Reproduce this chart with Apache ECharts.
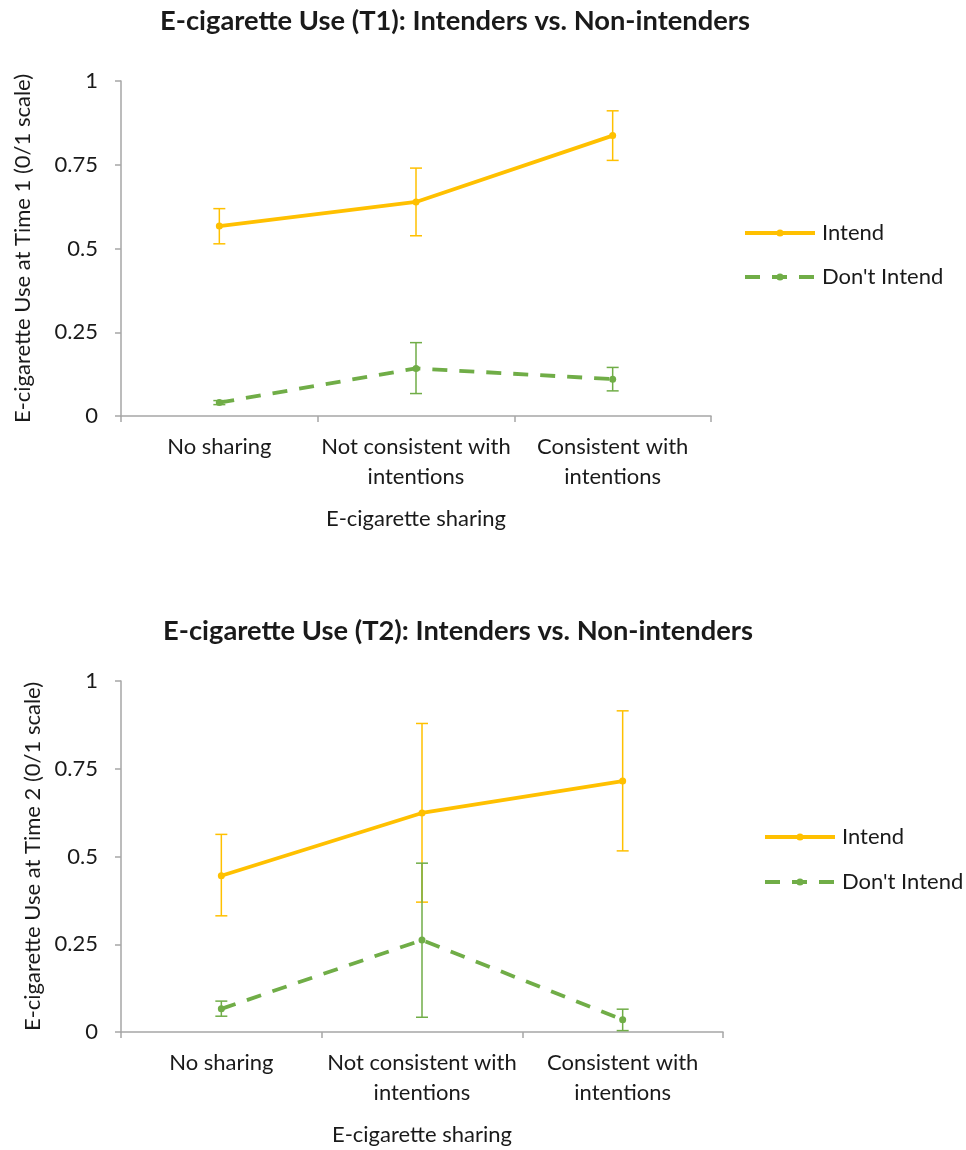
<!DOCTYPE html>
<html>
<head>
<meta charset="utf-8">
<script src="https://cdn.jsdelivr.net/npm/echarts@6/dist/echarts.min.js"></script>
<style>html,body{margin:0;padding:0;background:#fff}#c{width:966px;height:1150px}</style>
</head>
<body>
<div id="c"></div>
<script>
const categories = ['No sharing', 'Not consistent with\nintentions', 'Consistent with\nintentions'];
const yTicks = [0, 0.25, 0.5, 0.75, 1];

// T1
const intendT1 = [0.567, 0.639, 0.837];
const intendT1Low = [0.514, 0.538, 0.763];
const intendT1High = [0.619, 0.740, 0.911];
const dontT1 = [0.040, 0.142, 0.110];
const dontT1Low = [0.034, 0.067, 0.075];
const dontT1High = [0.046, 0.219, 0.145];

// T2
const intendT2 = [0.445, 0.624, 0.715];
const intendT2Low = [0.331, 0.370, 0.516];
const intendT2High = [0.563, 0.879, 0.915];
const dontT2 = [0.066, 0.262, 0.035];
const dontT2Low = [0.045, 0.042, 0.004];
const dontT2High = [0.088, 0.481, 0.065];

const YELLOW = '#FFC000';
const GREEN = '#70AD47';
const FONT = 'Lato';
const TXT = '#1a1a1a';

function errData(low, high) {
  return low.map((l, i) => [i, l, high[i]]);
}
function errSeries(name, low, high, color, idx) {
  return {
    name: name + ' error', type: 'custom', xAxisIndex: idx, yAxisIndex: idx, z: 1,
    silent: true, legendHoverLink: false,
    itemStyle: { color: color },
    data: errData(low, high),
    renderItem: function (params, api) {
      const i = api.value(0);
      const p1 = api.coord([i, api.value(1)]);
      const p2 = api.coord([i, api.value(2)]);
      const hw = 6;
      const st = { stroke: color, lineWidth: 1.5, fill: null };
      return {
        type: 'group',
        children: [
          { type: 'line', shape: { x1: p1[0], y1: p1[1], x2: p2[0], y2: p2[1] }, style: st },
          { type: 'line', shape: { x1: p1[0] - hw, y1: p1[1], x2: p1[0] + hw, y2: p1[1] }, style: st },
          { type: 'line', shape: { x1: p2[0] - hw, y1: p2[1], x2: p2[0] + hw, y2: p2[1] }, style: st }
        ]
      };
    }
  };
}
function lineSeries(name, data, color, dashed, idx) {
  return {
    name: name, type: 'line', xAxisIndex: idx, yAxisIndex: idx, z: 3,
    data: data, symbol: 'circle', symbolSize: 7,
    itemStyle: { color: color },
    lineStyle: { color: color, width: 3.8, type: dashed ? [15, 12] : 'solid' }
  };
}
function xAxis(idx) {
  return {
    type: 'category', gridIndex: idx, data: categories,
    boundaryGap: true,
    name: 'E-cigarette sharing', nameLocation: 'middle', nameGap: 92,
    nameTextStyle: { fontFamily: FONT, fontSize: 22, color: TXT },
    axisLine: { lineStyle: { color: '#A6A6A6', width: 1.5 } },
    axisTick: { show: true, length: 6, inside: false, lineStyle: { color: '#A6A6A6', width: 1.5 } },
    axisLabel: { fontFamily: FONT, fontSize: 22, color: TXT, margin: 16, lineHeight: 30, interval: 0 },
    splitLine: { show: false }
  };
}
function yAxis(idx, name, gap) {
  return {
    type: 'value', gridIndex: idx, min: yTicks[0], max: yTicks[yTicks.length - 1], interval: 0.25,
    name: name, nameLocation: 'middle', nameGap: gap,
    nameTextStyle: { fontFamily: FONT, fontSize: 22, color: TXT },
    axisLine: { show: true, lineStyle: { color: '#A6A6A6', width: 1.5 } },
    axisTick: { show: true, length: 6, lineStyle: { color: '#A6A6A6', width: 1.5 } },
    axisLabel: { fontFamily: FONT, fontSize: 22, color: TXT, margin: 23 },
    splitLine: { show: false }
  };
}
function legend(left, top, gap) {
  return {
    orient: 'vertical', left: left, top: top, itemWidth: 70, itemHeight: 9, itemGap: gap,
    data: ['Intend', "Don't Intend"],
    lineStyle: { width: 4 },
    textStyle: { fontFamily: FONT, fontSize: 22, lineHeight: 22, color: TXT, padding: [0, 0, 0, 2] },
    selectedMode: false
  };
}

const chart = echarts.init(document.getElementById('c'), null, { renderer: 'canvas' });
chart.setOption({
  backgroundColor: '#fff',
  animation: false,
  title: [
    { text: 'E-cigarette Use (T1): Intenders vs. Non-intenders', left: 155, top: 3,
      textStyle: { fontFamily: FONT, fontSize: 27.3, fontWeight: 'bold', color: TXT } },
    { text: 'E-cigarette Use (T2): Intenders vs. Non-intenders', left: 158, top: 613,
      textStyle: { fontFamily: FONT, fontSize: 27.3, fontWeight: 'bold', color: TXT } }
  ],
  legend: [legend(738, 217, 22), legend(758, 821, 23)],
  grid: [
    { left: 121, top: 81, width: 590, height: 335 },
    { left: 121, top: 681, width: 602, height: 351 }
  ],
  xAxis: [xAxis(0), xAxis(1)],
  yAxis: [yAxis(0, 'E-cigarette Use at Time 1 (0/1 scale)', 87), yAxis(1, 'E-cigarette Use at Time 2 (0/1 scale)', 74)],
  series: [
    lineSeries('Intend', intendT1, YELLOW, false, 0),
    lineSeries("Don't Intend", dontT1, GREEN, true, 0),
    errSeries('Intend', intendT1Low, intendT1High, YELLOW, 0),
    errSeries("Don't Intend", dontT1Low, dontT1High, GREEN, 0),
    lineSeries('Intend', intendT2, YELLOW, false, 1),
    lineSeries("Don't Intend", dontT2, GREEN, true, 1),
    errSeries('Intend', intendT2Low, intendT2High, YELLOW, 1),
    errSeries("Don't Intend", dontT2Low, dontT2High, GREEN, 1)
  ]
});
</script>
</body>
</html>
